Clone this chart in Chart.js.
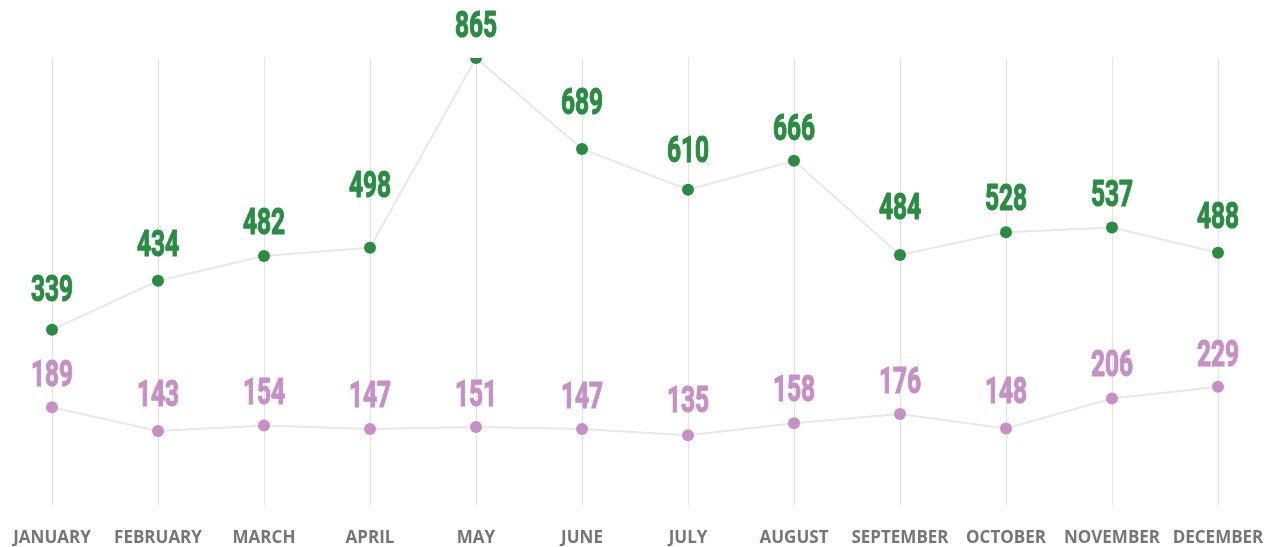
<!DOCTYPE html>
<html>
<head>
<meta charset="utf-8">
<script src="https://cdn.jsdelivr.net/npm/chart.js@4/dist/chart.umd.min.js"></script>
<style>
  html, body { margin: 0; padding: 0; background: #fff; }
  #wrap { width: 1265px; height: 547px; }
</style>
</head>
<body>
<div id="wrap"><canvas id="lineChart"></canvas></div>
<script>
//Data
var months = ["JANUARY","FEBRUARY","MARCH","APRIL","MAY","JUNE","JULY","AUGUST","SEPTEMBER","OCTOBER","NOVEMBER","DECEMBER"];
var greenValues = [339,434,482,498,865,689,610,666,484,528,537,488];
var purpleValues = [189,143,154,147,151,147,135,158,176,148,206,229];

var greenColor = "#2a8c43";
var purpleColor = "#c690c5";
var lineColor = "#e8e8e8";

//How far the line climbs within half a label width next to a point
function riseNear(points, j, half){
  var rise = 0;
  [j-1, j+1].forEach(function(k){
    if(k < 0 || k >= points.length) return;
    var dy = points[j].y - points[k].y;
    var dx = Math.abs(points[k].x - points[j].x);
    if(dy > 0) rise = Math.max(rise, dy*half/dx);
  });
  return rise;
}

//Draws the value above every point, squeezed to look condensed
var valueLabels = {
  id: "valueLabels",
  afterDatasetsDraw: function(chart){
    var ctx = chart.ctx;
    chart.data.datasets.forEach(function(ds, i){
      var meta = chart.getDatasetMeta(i);
      meta.data.forEach(function(pt, j){
        var gap = 21 + 0.8*riseNear(meta.data, j, 21);
        ctx.save();
        ctx.translate(pt.x, pt.y - gap);
        ctx.scale(0.68, 1);
        ctx.font = "bold 36px Roboto";
        ctx.fillStyle = ds.pointBackgroundColor;
        ctx.strokeStyle = ds.pointBackgroundColor;
        ctx.lineWidth = 1.2;
        ctx.textAlign = "center";
        ctx.textBaseline = "alphabetic";
        ctx.fillText(String(ds.data[j]), 0, 0);
        ctx.strokeText(String(ds.data[j]), 0, 0);
        ctx.restore();
      });
    });
  }
};

var ctxL = document.getElementById("lineChart").getContext("2d");
var myLineChart = new Chart(ctxL, {
  type: "line",
  data: {
    labels: months,
    datasets: [{
      label: "green",
      data: greenValues,
      borderColor: lineColor,
      borderWidth: 2,
      pointBackgroundColor: greenColor,
      pointBorderWidth: 0,
      pointRadius: 6,
      tension: 0
    }, {
      label: "purple",
      data: purpleValues,
      borderColor: lineColor,
      borderWidth: 2,
      pointBackgroundColor: purpleColor,
      pointBorderWidth: 0,
      pointRadius: 6,
      tension: 0
    }]
  },
  options: {
    responsive: true,
    maintainAspectRatio: false,
    animation: false,
    layout: { padding: { top: 58, bottom: 0, left: 0, right: 0 } },
    plugins: { legend: { display: false }, tooltip: { enabled: false } },
    scales: {
      x: {
        offset: false,
        afterFit: function(scale){
          scale.paddingLeft = 52;
          scale.paddingRight = 47;
          scale.paddingTop = 0;
          scale.paddingBottom = 0;
          scale.height = 42;
        },
        grid: { color: "#e3e3e3", lineWidth: 1, drawTicks: false },
        border: { display: false },
        ticks: {
          padding: 23,
          color: "#767676",
          maxRotation: 0,
          autoSkip: false,
          font: { family: "Open Sans", size: 17, weight: "bold" }
        }
      },
      y: {
        display: false,
        min: 0,
        max: 865
      }
    }
  },
  plugins: [valueLabels]
});
</script>
</body>
</html>
